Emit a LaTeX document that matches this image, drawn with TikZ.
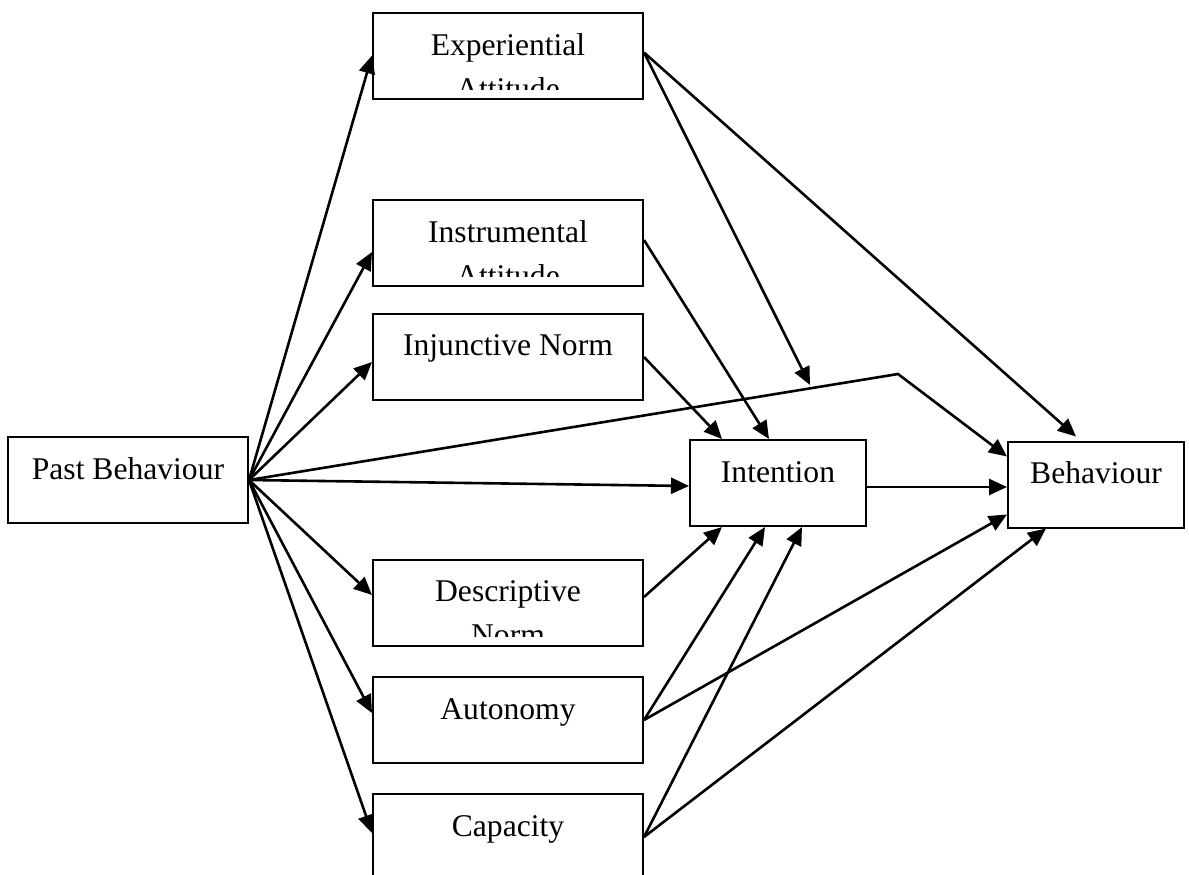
\documentclass[tikz,border=0pt]{standalone}
\usepackage{fontspec}
\setmainfont{Liberation Serif}
\usetikzlibrary{arrows.meta}

\begin{document}
\begin{tikzpicture}[
              x = 0.5pt, y = -0.5pt,
              box/.style = {draw, line width=1pt, inner sep=0pt,
                            minimum width=135pt, minimum height=43pt},
              lbl/.style = {anchor=base, inner sep=0pt,
                            font=\fontsize{15.8pt}{19pt}\selectfont},
              link/.style = {line width=1.3pt, -{Triangle[length=9pt,width=8pt]}}
            ]
            \useasboundingbox (0,0) rectangle (1189,874);

            \node[box, minimum width=120pt] (past) at (128,480) {};
            \node[box] (exp) at (508,55.5) {};
            \node[box] (ins) at (508,243) {};
            \node[box] (inj) at (508,357) {};
            \node[box] (des) at (508,602.5) {};
            \node[box] (aut) at (508,720) {};
            \node[box] (cap) at (508,837) {};
            \node[box, minimum width=88pt] (int) at (778,483) {};
            \node[box, minimum width=88pt] (beh) at (1096,484.5) {};

            \node[lbl] (pastA) at (128,479) {Past Behaviour};
            \node[lbl] (injA) at (508,355) {Injunctive Norm};
            \node[lbl] (autA) at (508,719) {Autonomy};
            \node[lbl] (capA) at (508,836) {Capacity};
            \node[lbl] (intA) at (778,482) {Intention};
            \node[lbl] (behA) at (1096,483) {Behaviour};
            \begin{scope}
              \clip (exp.north west) rectangle ([yshift=5.25pt]exp.south east);
              \node[lbl] (expA) at (508,55) {Experiential};
              \node[lbl] (expB) at (508,99) {Attitude};
            \end{scope}
            \begin{scope}
              \clip (ins.north west) rectangle ([yshift=5.25pt]ins.south east);
              \node[lbl] (insA) at (508,242) {Instrumental};
              \node[lbl] (insB) at (508,286) {Attitude};
            \end{scope}
            \begin{scope}
              \clip (des.north west) rectangle ([yshift=5.25pt]des.south east);
              \node[lbl] (desA) at (508,601) {Descriptive};
              \node[lbl] (desB) at (508,645) {Norm};
            \end{scope}

            \coordinate (bend) at (898,374);
            \coordinate (expend) at (810,385);

            \draw[link] (past.east) -- (exp.west);
            \draw[link] (past.east) -- ([yshift=-4.5pt]ins.west);
            \draw[link] (past.east) -- ([yshift=-2.5pt]inj.west);
            \draw[link] (past.east) -- ([yshift=-1.5pt]int.west);
            \draw[link] (past.east) -- ([yshift=3.75pt]des.west);
            \draw[link] (past.east) -- ([yshift=3.5pt]aut.west);
            \draw[link] (past.east) -- ([yshift=2pt]cap.west);
            \draw[link] (past.east) -- (bend) -- ([yshift=-8pt]beh.north west);

            \draw[link] ([yshift=1.5pt]exp.east) -- (expend);
            \draw[link] ([yshift=1.5pt]exp.east) -- ([xshift=34.5pt,yshift=2pt]beh.north west);
            \draw[link] ([yshift=1.5pt]ins.east) -- ([xshift=40pt]int.north west);
            \draw[link] (inj.east) -- ([xshift=16.5pt]int.north west);
            \draw[link] ([yshift=2.75pt]des.east) -- ([xshift=16.5pt]int.south west);
            \draw[link] (aut.east) -- ([xshift=38pt]int.south west);
            \draw[link] (aut.east) -- ([yshift=7pt]beh.south west);
            \draw[link] (cap.east) -- ([xshift=56.5pt]int.south west);
            \draw[link] (cap.east) -- ([xshift=19.5pt]beh.south west);
            \draw[link] ([yshift=-2pt]int.east) -- ([yshift=-1.25pt]beh.west);
          \end{tikzpicture}
\end{document}
